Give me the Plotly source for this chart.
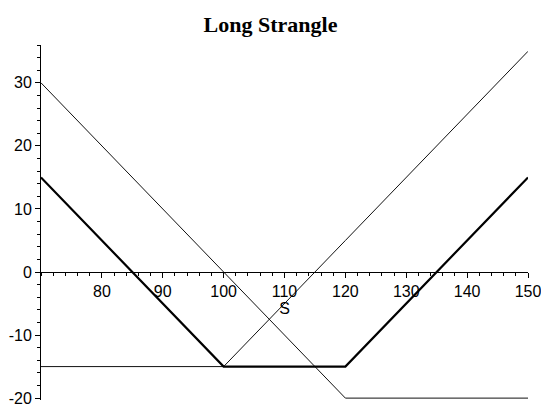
import plotly.graph_objects as go

# Stock price at expiry and payoff values at the kinks
S = [70, 100, 120, 150]
put_payoff = [30, 0, -20, -20]        # long put, strike 120
call_payoff = [-15, -15, 5, 35]       # long call, strike 100
strangle_payoff = [15, -15, -15, 15]  # combined position

x_ticks = [80, 90, 100, 110, 120, 130, 140, 150]
x_labels = ["80", "90", "100", "110", "120", "130", "140", "150"]
y_ticks = [-20, -10, 0, 10, 20, 30]
y_labels = ["-20", "-10", "0", "10", "20", "30"]

y_lo, y_hi = -20.3, 36.0
x_lo, x_hi = 70, 150

fig = go.Figure()
fig.add_trace(go.Scatter(x=S, y=put_payoff, mode="lines",
                         line=dict(color="#111", width=1)))
fig.add_trace(go.Scatter(x=S, y=call_payoff, mode="lines",
                         line=dict(color="#111", width=1)))
fig.add_trace(go.Scatter(x=S, y=strangle_payoff, mode="lines",
                         line=dict(color="#000", width=2.2)))

tick_font = dict(family="Liberation Sans, Arial, sans-serif", size=16, color="#000")

fig.update_layout(
    width=541, height=407,
    margin=dict(l=41, r=13, t=45, b=7),
    paper_bgcolor="white", plot_bgcolor="white",
    showlegend=False,
    title=dict(text="<b>Long Strangle</b>", x=0.5, xanchor="center",
               y=1 - 24 / 407, yanchor="middle",
               font=dict(family="Liberation Serif, Times New Roman, serif",
                         size=22, color="#000")),
    xaxis=dict(range=[x_lo, x_hi], anchor="free",
               position=(0 - y_lo) / (y_hi - y_lo),
               automargin=False, ticklabeloverflow="allow",
               showgrid=False, zeroline=False, showline=True,
               linecolor="#000", linewidth=1,
               tickmode="array", tickvals=x_ticks, ticktext=x_labels,
               ticks="outside", ticklen=5, tickcolor="#000",
               tickfont=tick_font,
               minor=dict(dtick=2, tick0=70, ticks="outside", ticklen=3,
                          tickcolor="#000", showgrid=False),
               title=dict(text="S", font=tick_font, standoff=0)),
    yaxis=dict(range=[y_lo, y_hi], automargin=False, ticklabeloverflow="allow",
               showgrid=False, zeroline=False, showline=True,
               linecolor="#000", linewidth=1,
               tickmode="array", tickvals=y_ticks, ticktext=y_labels,
               ticks="outside", ticklen=5, tickcolor="#000",
               tickfont=tick_font,
               minor=dict(dtick=2, tick0=0, ticks="outside", ticklen=3,
                          tickcolor="#000", showgrid=False)),
)

fig.write_html("out.html")
